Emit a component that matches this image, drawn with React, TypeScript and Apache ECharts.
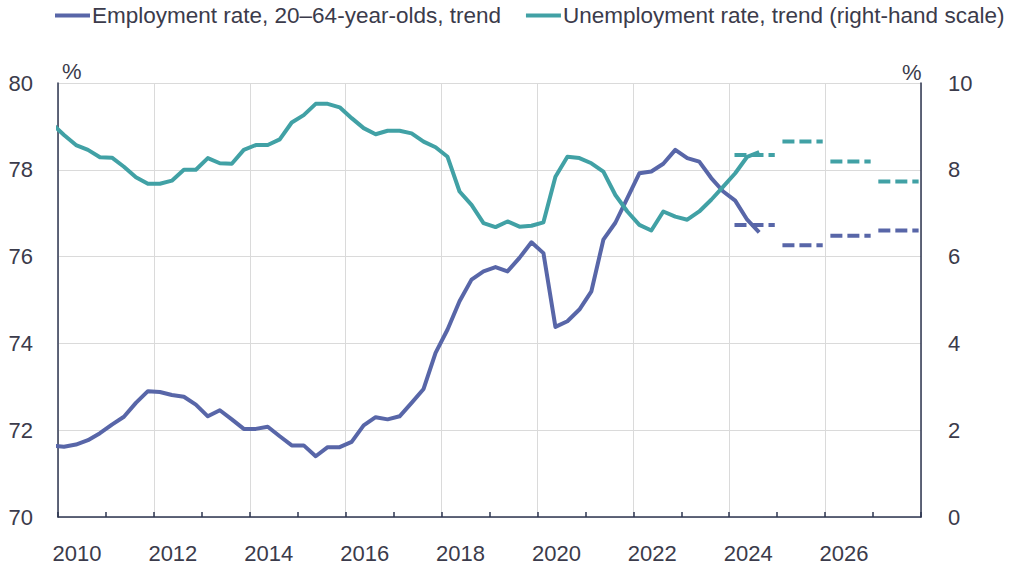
import React, { useEffect, useRef } from "react";
import * as echarts from "echarts";

// Quarterly points, starting 2009Q4 (placed at mid-quarter)
const firstQuarterYear = 2009;
const firstQuarterNo = 4;

const employment = [
  71.64, 71.62, 71.67, 71.77, 71.93, 72.13, 72.31, 72.63, 72.9, 72.88,
  72.81, 72.77, 72.59, 72.32, 72.46, 72.25, 72.03, 72.03, 72.08, 71.86,
  71.65, 71.65, 71.4, 71.61, 71.61, 71.73, 72.11, 72.3, 72.25, 72.32,
  72.63, 72.95, 73.78, 74.32, 74.97, 75.47, 75.66, 75.76, 75.66, 75.97,
  76.33, 76.08, 74.38, 74.51, 74.78, 75.2, 76.39, 76.78, 77.35, 77.92,
  77.96, 78.14, 78.46, 78.27, 78.19, 77.81, 77.5, 77.29, 76.85, 76.56,
];

const unemployment = [
  9.06, 8.8, 8.57, 8.46, 8.29, 8.28, 8.07, 7.83, 7.68, 7.68,
  7.75, 8.0, 8.0, 8.27, 8.15, 8.14, 8.46, 8.57, 8.57, 8.7,
  9.09, 9.26, 9.52, 9.52, 9.44, 9.19, 8.96, 8.82, 8.9, 8.9,
  8.84, 8.65, 8.52, 8.3, 7.5, 7.19, 6.77, 6.68, 6.81, 6.69,
  6.71, 6.79, 7.84, 8.3, 8.27, 8.15, 7.96, 7.42, 7.04, 6.73,
  6.6, 7.04, 6.92, 6.85, 7.04, 7.31, 7.61, 7.92, 8.3, 8.41,
];

const quarters = employment.map((_, i) => {
  const n = firstQuarterYear * 4 + (firstQuarterNo - 1) + i;
  return { year: Math.floor(n / 4), q: (n % 4) + 1 };
});
const quarterTime = quarters.map((d) => d.year + (d.q - 1) / 4 + 0.125);

const forecastYears = [2024, 2025, 2026, 2027];
const empForecast = [76.73, 76.26, 76.48, 76.6];
const unempForecast = [8.34, 8.65, 8.19, 7.73];

const yearLabels = Array.from({ length: 18 }, (_, i) => String(2010 + i));

const EMP_NAME = "Employment rate, 20\u201364-year-olds, trend";
const UNEMP_NAME = "Unemployment rate, trend (right-hand scale)";
const EMP_COLOR = "#5866a8";
const UNEMP_COLOR = "#41a1a5";
const AXIS_COLOR = "#2e3650";
const TEXT_COLOR = "#3b3b4b";
const GRID_COLOR = "#dadada";
const FONT = "Liberation Sans";

export default function App() {
  const ref = useRef<HTMLDivElement>(null);

  useEffect(() => {
    if (!ref.current) return;
    const chart = echarts.init(ref.current, null, { renderer: "svg" });

    const forecastSeries: any[] = [];
    forecastYears.forEach((y, i) => {
      forecastSeries.push({
        name: "emp-forecast-" + y,
        type: "line",
        xAxisIndex: 0,
        yAxisIndex: 0,
        data: [
          [y + 0.11, empForecast[i]],
          [y + 0.95, empForecast[i]],
        ],
        showSymbol: false,
        lineStyle: { color: EMP_COLOR, width: 4, type: [12, 5], cap: "butt" },
        silent: true,
      });
      forecastSeries.push({
        name: "unemp-forecast-" + y,
        type: "line",
        xAxisIndex: 0,
        yAxisIndex: 1,
        data: [
          [y + 0.11, unempForecast[i]],
          [y + 0.95, unempForecast[i]],
        ],
        showSymbol: false,
        lineStyle: { color: UNEMP_COLOR, width: 4, type: [12, 5], cap: "butt" },
        silent: true,
      });
    });

    chart.setOption({
      animation: false,
      textStyle: { fontFamily: FONT },
      grid: { left: 58, right: 106, top: 83, bottom: 46 },
      legend: {
        data: [
          { name: EMP_NAME, itemStyle: { color: EMP_COLOR } },
          { name: UNEMP_NAME, itemStyle: { color: UNEMP_COLOR } },
        ],
        left: 55,
        top: 4,
        padding: 0,
        icon: "rect",
        itemWidth: 35,
        itemHeight: 4,
        itemGap: 25,
        textStyle: {
          fontFamily: FONT,
          fontSize: 22.5,
          color: TEXT_COLOR,
          padding: [0, 0, 0, -3],
        },
      },
      graphic: [
        {
          type: "text",
          left: 62,
          top: 60,
          style: { text: "%", fontFamily: FONT, fontSize: 22, fill: TEXT_COLOR },
        },
        {
          type: "text",
          left: 902,
          top: 61,
          style: { text: "%", fontFamily: FONT, fontSize: 22, fill: TEXT_COLOR },
        },
      ],
      xAxis: [
        {
          type: "value",
          min: 2010,
          max: 2028,
          interval: 1,
          axisLine: { show: true, lineStyle: { color: AXIS_COLOR, width: 1.5 } },
          axisTick: { show: true, inside: true, length: 5, lineStyle: { color: AXIS_COLOR, width: 1.5 } },
          axisLabel: { show: false },
          splitLine: { show: false },
        },
        {
          type: "value",
          min: 2010,
          max: 2028,
          interval: 2,
          position: "bottom",
          axisLine: { show: false },
          axisTick: { show: false },
          axisLabel: { show: false },
          splitLine: { show: true, lineStyle: { color: GRID_COLOR, width: 1 } },
        },
        {
          type: "category",
          data: yearLabels,
          boundaryGap: true,
          position: "bottom",
          axisLine: { show: false },
          axisTick: { show: false },
          splitLine: { show: false },
          axisLabel: {
            interval: 1,
            margin: 25,
            fontSize: 22,
            color: TEXT_COLOR,
            fontFamily: FONT,
            padding: [0, 10, 0, 0],
          },
        },
      ],
      yAxis: [
        {
          type: "value",
          min: 70,
          max: 80,
          interval: 2,
          axisLine: { show: true, lineStyle: { color: AXIS_COLOR, width: 1.5 } },
          axisTick: { show: false },
          axisLabel: { fontSize: 22, color: TEXT_COLOR, margin: 25, fontFamily: FONT },
          splitLine: { show: true, lineStyle: { color: GRID_COLOR, width: 1 } },
        },
        {
          type: "value",
          min: 0,
          max: 10,
          interval: 2,
          position: "right",
          axisLine: { show: true, lineStyle: { color: AXIS_COLOR, width: 1.5 } },
          axisTick: { show: false },
          axisLabel: { fontSize: 22, color: TEXT_COLOR, margin: 27, fontFamily: FONT },
          splitLine: { show: false },
        },
      ],
      series: [
        {
          name: EMP_NAME,
          type: "line",
          xAxisIndex: 0,
          yAxisIndex: 0,
          data: quarterTime.map((t, i) => [t, employment[i]]),
          showSymbol: false,
          clip: true,
          itemStyle: { color: EMP_COLOR },
          lineStyle: { color: EMP_COLOR, width: 4, join: "round" },
        },
        {
          name: UNEMP_NAME,
          type: "line",
          xAxisIndex: 0,
          yAxisIndex: 1,
          data: quarterTime.map((t, i) => [t, unemployment[i]]),
          showSymbol: false,
          clip: true,
          itemStyle: { color: UNEMP_COLOR },
          lineStyle: { color: UNEMP_COLOR, width: 4, join: "round" },
        },
        ...forecastSeries,
      ],
    });

    return () => chart.dispose();
  }, []);

  return (
    <div
      ref={ref}
      style={{ position: "fixed", left: 0, top: 0, width: 1027, height: 564, background: "#ffffff" }}
    />
  );
}
